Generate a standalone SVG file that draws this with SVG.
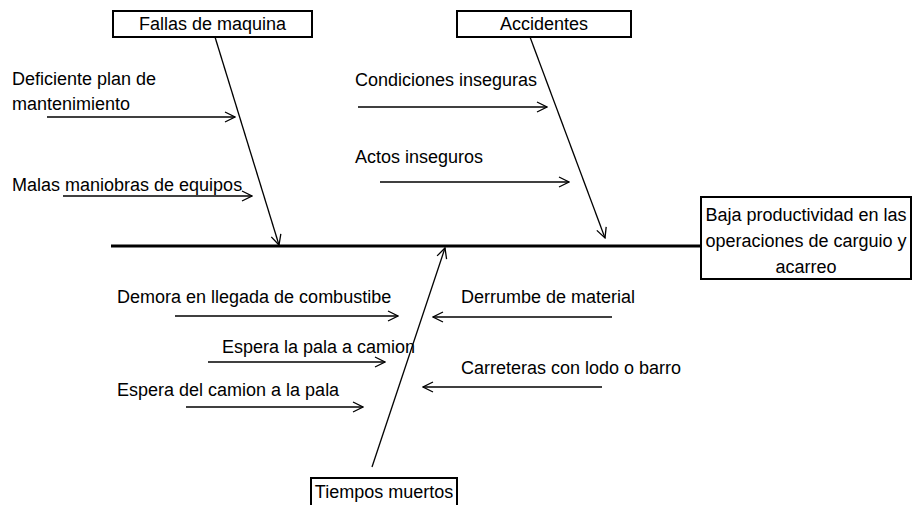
<svg xmlns="http://www.w3.org/2000/svg" width="912" height="505" viewBox="0 0 912 505">
<style>
text{font-family:"Liberation Sans",Arial,sans-serif;font-size:18px;fill:#000}
.box{fill:#fff;stroke:#000;stroke-width:2}
.ln{stroke:#000;stroke-width:1.3;fill:none}
.ar{stroke:#000;stroke-width:1.3;fill:none;marker-end:url(#arr)}
.mid{text-anchor:middle}
</style>
<defs>
<marker id="arr" viewBox="0 0 12 12" refX="11" refY="6" markerWidth="12" markerHeight="12" markerUnits="userSpaceOnUse" orient="auto">
<path d="M1,1 L11,6 L1,11" fill="none" stroke="#000" stroke-width="1.3"/>
</marker>
</defs>
<g id="connectors">
<line x1="111" y1="246" x2="701" y2="246" stroke="#000" stroke-width="3"/>
<line class="ar" x1="215" y1="37" x2="279" y2="245"/>
<line class="ar" x1="530" y1="37" x2="605" y2="238"/>
<line class="ar" x1="372" y1="467" x2="445" y2="248"/>
<line class="ar" x1="47" y1="117" x2="235" y2="117"/>
<line class="ar" x1="63" y1="196" x2="252" y2="196"/>
<line class="ar" x1="358" y1="107" x2="547" y2="107"/>
<line class="ar" x1="380" y1="182" x2="569" y2="182"/>
<line class="ar" x1="175" y1="316" x2="398" y2="316"/>
<line class="ar" x1="208" y1="362" x2="385" y2="362"/>
<line class="ar" x1="186" y1="407" x2="363" y2="407"/>
<line class="ar" x1="612" y1="317" x2="433" y2="317"/>
<line class="ar" x1="602" y1="387" x2="423" y2="387"/>
</g>
<g id="fallas">
<rect class="box" x="113" y="11" width="199" height="26"/>
<text class="mid" x="212.5" y="30">Fallas de maquina</text>
</g>
<g id="accidentes">
<rect class="box" x="457" y="11" width="174" height="26"/>
<text class="mid" x="544" y="30">Accidentes</text>
</g>
<g id="efecto">
<rect class="box" x="701" y="197" width="210" height="82"/>
<text class="mid" x="806" y="221">Baja productividad en las</text>
<text class="mid" x="806" y="247">operaciones de carguio y</text>
<text class="mid" x="806" y="273">acarreo</text>
</g>
<g id="tiempos">
<rect class="box" x="311" y="478" width="146" height="30"/>
<text class="mid" x="384" y="498">Tiempos muertos</text>
</g>
<g id="causas">
<text x="12" y="85">Deficiente plan de</text>
<text x="12" y="110">mantenimiento</text>
<text x="12" y="191">Malas maniobras de equipos</text>
<text x="355" y="86">Condiciones inseguras</text>
<text x="355" y="163">Actos inseguros</text>
<text x="117" y="303">Demora en llegada de combustibe</text>
<text x="222" y="353">Espera la pala a camion</text>
<text x="117" y="396">Espera del camion a la pala</text>
<text x="461" y="303">Derrumbe de material</text>
<text x="461" y="374">Carreteras con lodo o barro</text>
</g>
</svg>
